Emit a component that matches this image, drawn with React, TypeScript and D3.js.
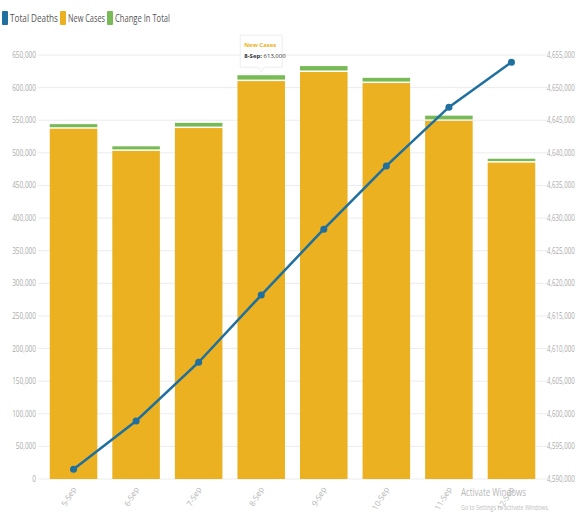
import React from "react";
import * as d3 from "d3";

const categories = ["5-Sep", "6-Sep", "7-Sep", "8-Sep", "9-Sep", "10-Sep", "11-Sep", "12-Sep"];
const newCases = [537000, 503000, 538000, 610000, 624000, 607000, 549000, 485000];
const changeInTotal = [7000, 7000, 8000, 9000, 9000, 8000, 8000, 6000];
const totalDeaths = [4591500, 4598900, 4607900, 4618200, 4628300, 4638000, 4647000, 4653900];
const leftTicks = d3.range(0, 650001, 50000);
const rightTicks = d3.range(4590000, 4655001, 5000);
const legendItems = ["Total Deaths", "New Cases", "Change In Total"];

const W = 577;
const H = 521;
const FONT = "'Open Sans', 'Noto Sans', sans-serif";
const BLUE = "#1f6f9f";
const ORANGE = "#ebb120";
const GREEN = "#78ba55";
const fmt = d3.format(",");

export default function App() {
  const x0 = 41, x1 = 544, yTop = 55, yBot = 479;
  const x = d3.scaleBand().domain(categories).range([x0, x1]).paddingInner(0.24).paddingOuter(0.14);
  const yL = d3.scaleLinear().domain([0, 650000]).range([yBot, yTop]);
  const yR = d3.scaleLinear().domain([4590000, 4655000]).range([yBot, yTop]);
  const line = d3.line<number>()
    .x((_, i) => (x(categories[i]) as number) + x.bandwidth() / 2)
    .y((d) => yR(d));
  const legendColors = [BLUE, ORANGE, GREEN];
  const legendX = [2, 60, 107];
  const legendW = [48, 37, 55];

  const tipI = 3;
  const tipCx = (x(categories[tipI]) as number) + x.bandwidth() / 2;
  const tipTop = yL(newCases[tipI] + changeInTotal[tipI]);

  return (
    <svg width={W} height={H} style={{ position: "absolute", left: 0, top: 0, background: "#fff" }} fontFamily={FONT}>
      {/* legend */}
      {legendItems.map((t, i) => (
        <g key={t}>
          <rect x={legendX[i]} y={11} width={6} height={14} fill={legendColors[i]} rx={1} />
          <text x={legendX[i] + 8} y={22} fontSize={10} fill="#555" textLength={legendW[i]} lengthAdjust="spacingAndGlyphs">{t}</text>
        </g>
      ))}
      {/* gridlines */}
      {leftTicks.map((t) => (
        <line key={t} x1={x0 - 3} x2={x1 + 3} y1={yL(t)} y2={yL(t)} stroke="#ececec" strokeWidth={1} />
      ))}
      {/* left labels */}
      {leftTicks.map((t) => (
        <text key={"l" + t} transform={`translate(36,${yL(t) + 3}) scale(0.72,1)`} fontSize={9} fill="#aaa" textAnchor="end">{fmt(t)}</text>
      ))}
      {/* right labels */}
      {rightTicks.map((t) => (
        <text key={"r" + t} transform={`translate(547,${yR(t) + 3}) scale(0.68,1)`} fontSize={9} fill="#aaa">{fmt(t)}</text>
      ))}
      {/* bars */}
      {categories.map((c, i) => {
        const bx = x(c) as number;
        const bw = x.bandwidth();
        return (
          <g key={c}>
            <rect x={bx} y={yL(newCases[i])} width={bw} height={yBot - yL(newCases[i])} fill={ORANGE} />
            <rect x={bx} y={yL(newCases[i] + changeInTotal[i])} width={bw}
              height={yL(newCases[i]) - yL(newCases[i] + changeInTotal[i]) - 1.5} fill={GREEN} />
          </g>
        );
      })}
      {/* line */}
      <path d={line(totalDeaths) || ""} fill="none" stroke={BLUE} strokeWidth={2.5} />
      {totalDeaths.map((d, i) => (
        <circle key={i} cx={(x(categories[i]) as number) + x.bandwidth() / 2} cy={yR(d)} r={3.5} fill={BLUE} />
      ))}
      {/* x labels */}
      {categories.map((c) => {
        const cx = (x(c) as number) + x.bandwidth() / 2;
        return (
          <text key={"x" + c} transform={`translate(${cx + 3},${489}) rotate(-60)`} fontSize={8} fill="#b5b5b5" textAnchor="end">{c}</text>
        );
      })}
      {/* tooltip */}
      <g>
        <path d={`M${tipCx - 21},${tipTop - 40} h42 v32 h-18 l-3,5 l-3,-5 h-18 z`} fill="#fff" stroke="#eee" strokeWidth={1} />
        <text x={tipCx - 17} y={tipTop - 28} fontSize={6} fill={ORANGE} fontWeight="bold">New Cases</text>
        <text x={tipCx - 17} y={tipTop - 17} fontSize={6} fill="#333">
          <tspan fontWeight="bold">{categories[tipI]}:</tspan> {fmt(newCases[tipI] + 3000)}
        </text>
      </g>
      {/* watermark */}
      <text transform="translate(461,496) scale(0.72,1)" fontSize={11} fill="#b8b8b8">Activate Windows</text>
      <text transform="translate(461,510) scale(0.72,1)" fontSize={7.5} fill="#c0c0c0">Go to Settings to activate Windows.</text>
    </svg>
  );
}
